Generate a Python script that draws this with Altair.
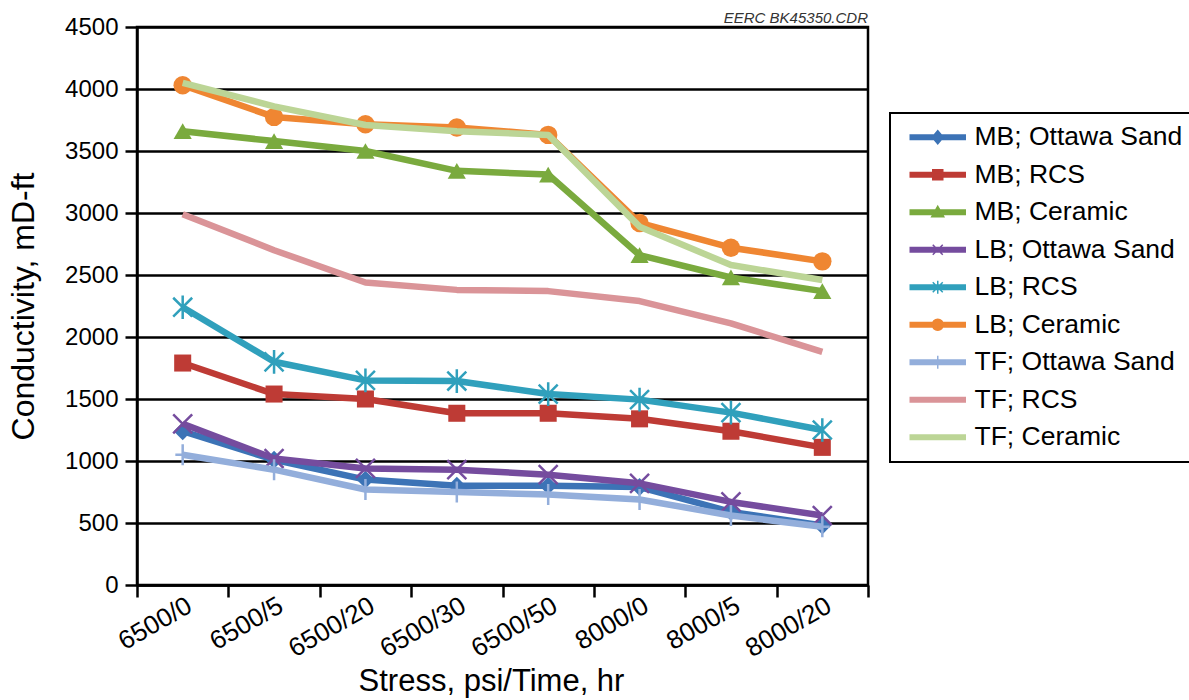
import altair as alt
import pandas as pd

# ---------------- data ----------------
categories = ["6500/0", "6500/5", "6500/20", "6500/30", "6500/50", "8000/0", "8000/5", "8000/20"]

series_names = [
    "MB; Ottawa Sand", "MB; RCS", "MB; Ceramic",
    "LB; Ottawa Sand", "LB; RCS", "LB; Ceramic",
    "TF; Ottawa Sand", "TF; RCS", "TF; Ceramic",
]

mb_ottawa = [1240, 1010, 850, 800, 800, 790, 590, 480]
mb_rcs = [1790, 1540, 1500, 1385, 1385, 1340, 1240, 1110]
mb_ceramic = [3660, 3580, 3500, 3340, 3310, 2660, 2480, 2370]
lb_ottawa = [1300, 1020, 940, 930, 890, 820, 670, 560]
lb_rcs = [2240, 1800, 1650, 1645, 1540, 1495, 1390, 1250]
lb_ceramic = [4030, 3775, 3715, 3690, 3630, 2920, 2720, 2610]
tf_ottawa = [1050, 930, 770, 750, 730, 690, 560, 470]
tf_rcs = [2990, 2700, 2440, 2380, 2370, 2290, 2110, 1880]
tf_ceramic = [4050, 3860, 3710, 3660, 3630, 2890, 2580, 2460]

series_values = [mb_ottawa, mb_rcs, mb_ceramic, lb_ottawa, lb_rcs, lb_ceramic,
                 tf_ottawa, tf_rcs, tf_ceramic]

colors = ["#3C73B6", "#BE3B35", "#7AAA3E", "#754C9E", "#30A0BC", "#EF8632",
          "#93AEDB", "#DA9498", "#BCD596"]
markers = ["diamond", "square", "triangle", "x", "asterisk", "circle", "plus", None, None]

y_ticks = [0, 500, 1000, 1500, 2000, 2500, 3000, 3500, 4000, 4500]

rows = []
for name, vals in zip(series_names, series_values):
    for c, v in zip(categories, vals):
        rows.append({"series": name, "cond": c, "value": v})
df = pd.DataFrame(rows)

# ---------------- marker styles ----------------
plot_marker = {
    "diamond": ("diamond", True, 320),
    "square": ("square", True, 290),
    "triangle": ("triangle-up", True, 330),
    "circle": ("circle", True, 340),
    "x": ("M-1,-1L1,1M-1,1L1,-1", False, 360),
    "asterisk": ("M-1,-1L1,1M-1,1L1,-1M0,-1.25L0,1.25", False, 360),
    "plus": ("M0,-1L0,1M-0.7,0L0.7,0", False, 440),
}

L, R, h = -0.4, 5.1, 0.22
m = (L + R) / 2
line_path = f"M{L},{-h}L{R},{-h}L{R},{h}L{L},{h}Z"
legend_marker = {
    "diamond": f"M{m-0.55},0L{m},-0.65L{m+0.55},0L{m},0.65Z",
    "square": f"M{m-0.5},-0.5L{m+0.5},-0.5L{m+0.5},0.5L{m-0.5},0.5Z",
    "triangle": f"M{m},-0.6L{m+0.6},0.45L{m-0.6},0.45Z",
    "circle": f"M{m-0.55},0A0.55,0.55 0 1,1 {m+0.55},0A0.55,0.55 0 1,1 {m-0.55},0Z",
    "x": f"M{m-0.5},-0.5L{m+0.5},0.5M{m-0.5},0.5L{m+0.5},-0.5",
    "asterisk": f"M{m-0.5},-0.5L{m+0.5},0.5M{m-0.5},0.5L{m+0.5},-0.5M{m},-0.65L{m},0.65",
    "plus": f"M{m},-0.65L{m},0.65",
}
legend_paths = [line_path + (legend_marker[k] if k else "") for k in markers]

# ---------------- encodings ----------------
x_enc = alt.X(
    "cond:N",
    sort=categories,
    scale=alt.Scale(type="band", domain=categories, paddingInner=0, paddingOuter=0),
    bandPosition=0.5,
    title="Stress, psi/Time, hr",
    axis=alt.Axis(
        tickBand="extent", labelAngle=-30, labelFontSize=26, labelPadding=-5,
        tickSize=12, grid=False, titlePadding=5, titleX=354, titleFontSize=31,
    ),
)
y_enc = alt.Y(
    "value:Q",
    scale=alt.Scale(domain=[0, 4500], nice=False),
    title="Conductivity, mD-ft",
    axis=alt.Axis(values=y_ticks, format="d", labelFontSize=24, labelPadding=7,
                  tickSize=12, grid=True, titlePadding=24, titleFontSize=32),
)

base = alt.Chart(df)
layers = []
for name, col, mk in zip(series_names, colors, markers):
    sub = base.transform_filter(alt.datum.series == name)
    layers.append(
        sub.mark_line(strokeWidth=6.5, color=col, strokeJoin="round").encode(x=x_enc, y=y_enc)
    )
    if mk:
        shp, filled, size = plot_marker[mk]
        if filled:
            pt = sub.mark_point(shape=shp, filled=True, size=size, color=col, opacity=1)
        else:
            pt = sub.mark_point(shape=shp, filled=False, size=size, color=col,
                                strokeWidth=2.5, opacity=1)
        layers.append(pt.encode(x=x_enc, y=y_enc))

legend_def = alt.Legend(
    orient="none", legendX=753, legendY=86, title=None,
    symbolSize=400, symbolStrokeWidth=1.5, labelFontSize=26.5, labelOffset=47,
    rowPadding=10.5, padding=11, strokeColor="black", labelLimit=600,
    labelColor="black",
)
legend_layer = base.transform_filter("false").mark_point(
    filled=True, opacity=1, strokeWidth=1.5, size=400
).encode(
    fill=alt.Fill("series:N", scale=alt.Scale(domain=series_names, range=colors), legend=legend_def),
    stroke=alt.Stroke("series:N", scale=alt.Scale(domain=series_names, range=colors), legend=legend_def),
    shape=alt.Shape("series:N", scale=alt.Scale(domain=series_names, range=legend_paths), legend=legend_def),
)
layers.append(legend_layer)

chart = alt.layer(*layers).properties(
    width=731,
    height=558,
    autosize=alt.AutoSizeParams(type="none"),
    padding={"left": 137, "top": 27, "right": 321, "bottom": 115},
    title=alt.TitleParams(
        "EERC BK45350.CDR", anchor="end", frame="group", fontSize=15,
        fontStyle="italic", fontWeight="normal", color="#333333", offset=-11,
    ),
).configure(
    font="Liberation Sans", background="white",
).configure_view(
    stroke="black", strokeWidth=2.5,
).configure_axis(
    domainColor="black", domainWidth=2.5, tickColor="black", tickWidth=2.5,
    labelColor="black", titleColor="black", titleFontWeight="normal",
    gridColor="black", gridWidth=2.5, gridOpacity=1, labelFont="Liberation Sans",
    titleFont="Liberation Sans",
).configure_legend(
    strokeWidth=2, labelFont="Liberation Sans",
)

chart.save("out.html", embed_options={"renderer": "svg", "actions": False})
